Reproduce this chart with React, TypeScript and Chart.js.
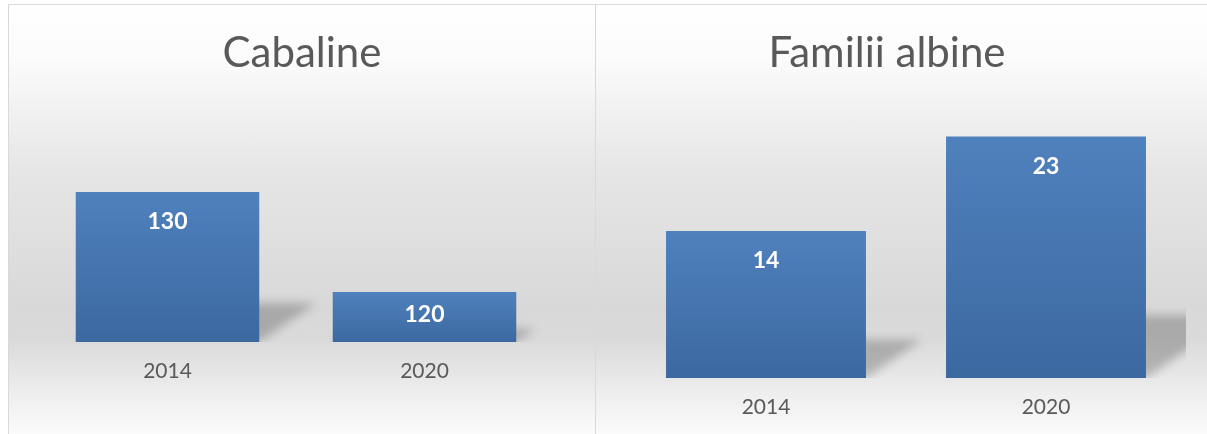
import React, { useEffect, useRef } from "react";
import { Chart, registerables } from "chart.js";

Chart.register(...registerables);

// ---- data ----
const CATEGORIES = ["2014", "2020"];
const CABALINE_VALUES = [130, 120];
const ALBINE_VALUES = [14, 23];
const CABALINE_TITLE = "Cabaline";
const ALBINE_TITLE = "Familii albine";
const CABALINE_RANGE = [115, 135];
const ALBINE_RANGE = [0, 25];

const FONT = "Lato, 'Open Sans', sans-serif";
const TEXT_COLOR = "#595959";

const panelTitlePlugin = {
  id: "panelTitle",
  afterDraw(chart: any, _args: any, opts: any) {
    if (!opts || !opts.text) return;
    const { ctx } = chart;
    ctx.save();
    ctx.font = `${opts.weight || 400} ${opts.size}px ${FONT}`;
    ctx.fillStyle = opts.color;
    ctx.textAlign = "center";
    ctx.textBaseline = "alphabetic";
    ctx.fillText(opts.text, opts.x, opts.y);
    ctx.restore();
  },
};

function barGeom(chart: any, bar: any) {
  const { x, y, base, width } = bar.getProps(["x", "y", "base", "width"], true);
  const b = Math.min(base, chart.chartArea.bottom);
  return { x, y, base: b, width };
}

const barShadowPlugin = {
  id: "barShadow",
  beforeDatasetsDraw(chart: any) {
    const { ctx, chartArea } = chart;
    const meta = chart.getDatasetMeta(0);
    ctx.save();
    ctx.beginPath();
    ctx.rect(chartArea.left, chartArea.top, chartArea.right - chartArea.left, chartArea.bottom - chartArea.top);
    ctx.clip();
    ctx.filter = "blur(5px)";
    ctx.fillStyle = "rgba(0,0,0,0.22)";
    meta.data.forEach((bar: any) => {
      const { x, y, base, width } = barGeom(chart, bar);
      const h = base - y;
      const l = x - width / 2;
      const r = x + width / 2;
      const dx = 0.38 * h;
      const sh = 0.26 * h;
      ctx.beginPath();
      ctx.moveTo(l, base);
      ctx.lineTo(r, base);
      ctx.lineTo(r + dx, base - sh);
      ctx.lineTo(l + dx, base - sh);
      ctx.closePath();
      ctx.fill();
    });
    ctx.restore();
  },
};

const barLabelPlugin = {
  id: "barLabels",
  afterDatasetsDraw(chart: any) {
    const { ctx } = chart;
    const ds = chart.data.datasets[0];
    const meta = chart.getDatasetMeta(0);
    ctx.save();
    ctx.font = `bold 23px ${FONT}`;
    ctx.fillStyle = "#ffffff";
    ctx.textAlign = "center";
    ctx.textBaseline = "middle";
    meta.data.forEach((bar: any, i: number) => {
      const { x, y, base } = barGeom(chart, bar);
      const h = base - y;
      const cy = y + Math.min(30, h / 2 - 2.5);
      ctx.fillText(String(ds.data[i]), x, cy);
    });
    ctx.restore();
  },
};

type PanelProps = {
  title: string;
  values: number[];
  range: number[];
  width: number;
  height: number;
  padding: { left: number; right: number; top: number; bottom: number };
  titleX: number;
};

function BarPanel({ title, values, range, width, height, padding, titleX }: PanelProps) {
  const ref = useRef<HTMLCanvasElement | null>(null);
  useEffect(() => {
    if (!ref.current) return;
    const chart = new Chart(ref.current, {
      type: "bar",
      data: {
        labels: CATEGORIES,
        datasets: [
          {
            data: values,
            borderWidth: 0,
            barPercentage: 0.714,
            categoryPercentage: 1,
            backgroundColor: (c: any) => {
              const ch = c.chart;
              if (!ch.chartArea || c.type !== "data") return "#4777b2";
              const ys = ch.scales.y;
              const top = ys.getPixelForValue(c.raw);
              const bottom = ys.getBasePixel();
              const g = ch.ctx.createLinearGradient(0, top, 0, bottom);
              g.addColorStop(0, "#4f81bd");
              g.addColorStop(1, "#3c68a0");
              return g;
            },
          },
        ],
      },
      options: {
        responsive: false,
        animation: false,
        devicePixelRatio: 1,
        layout: { padding },
        scales: {
          x: {
            grid: { display: false, drawTicks: false },
            border: { display: false },
            ticks: {
              color: TEXT_COLOR,
              font: { family: FONT, size: 21 },
              padding: 17,
            },
          },
          y: {
            display: false,
            min: range[0],
            max: range[1],
          },
        },
        plugins: {
          legend: { display: false },
          tooltip: { enabled: false },
          title: { display: false },
          panelTitle: { text: title, x: titleX, y: 62, size: 42, color: TEXT_COLOR },
        } as any,
      },
      plugins: [panelTitlePlugin, barShadowPlugin, barLabelPlugin],
    });
    return () => chart.destroy();
  }, [title, values, range, width, height, padding, titleX]);
  return <canvas ref={ref} width={width} height={height} style={{ width, height, display: "block" }} />;
}

const BG =
  "linear-gradient(to bottom, #ffffff 0px, #fbfbfb 55px, #f3f3f3 95px, #e6e6e6 165px, #dedede 245px, #d8d8d8 305px, #dadada 335px, #e5e5e5 365px, #f0f0f0 395px, #fbfbfb 430px, #ffffff 455px)";

const CANVAS_H = 460;
const LEFT_PAD = { left: 30, right: 43, top: 137, bottom: 63.8 };
const RIGHT_PAD = { left: 30, right: 48, top: 110.5, bottom: 27.8 };

export default function App() {
  return (
    <div
      style={{
        position: "fixed",
        left: 0,
        top: 0,
        width: 1207,
        height: 434,
        overflow: "hidden",
        background: "#ffffff",
      }}
    >
      <div
        style={{
          position: "absolute",
          left: 8,
          top: 4,
          width: 589,
          height: 480,
          boxSizing: "border-box",
          border: "1px solid #d9d9d9",
          background: BG,
        }}
      >
        <BarPanel
          title={CABALINE_TITLE}
          values={CABALINE_VALUES}
          range={CABALINE_RANGE}
          width={587}
          height={CANVAS_H}
          padding={LEFT_PAD}
          titleX={293}
        />
      </div>
      <div
        style={{
          position: "absolute",
          left: 595,
          top: 4,
          width: 640,
          height: 480,
          boxSizing: "border-box",
          border: "1px solid #d9d9d9",
          background: BG,
        }}
      >
        <BarPanel
          title={ALBINE_TITLE}
          values={ALBINE_VALUES}
          range={ALBINE_RANGE}
          width={638}
          height={CANVAS_H}
          padding={RIGHT_PAD}
          titleX={291}
        />
      </div>
    </div>
  );
}
